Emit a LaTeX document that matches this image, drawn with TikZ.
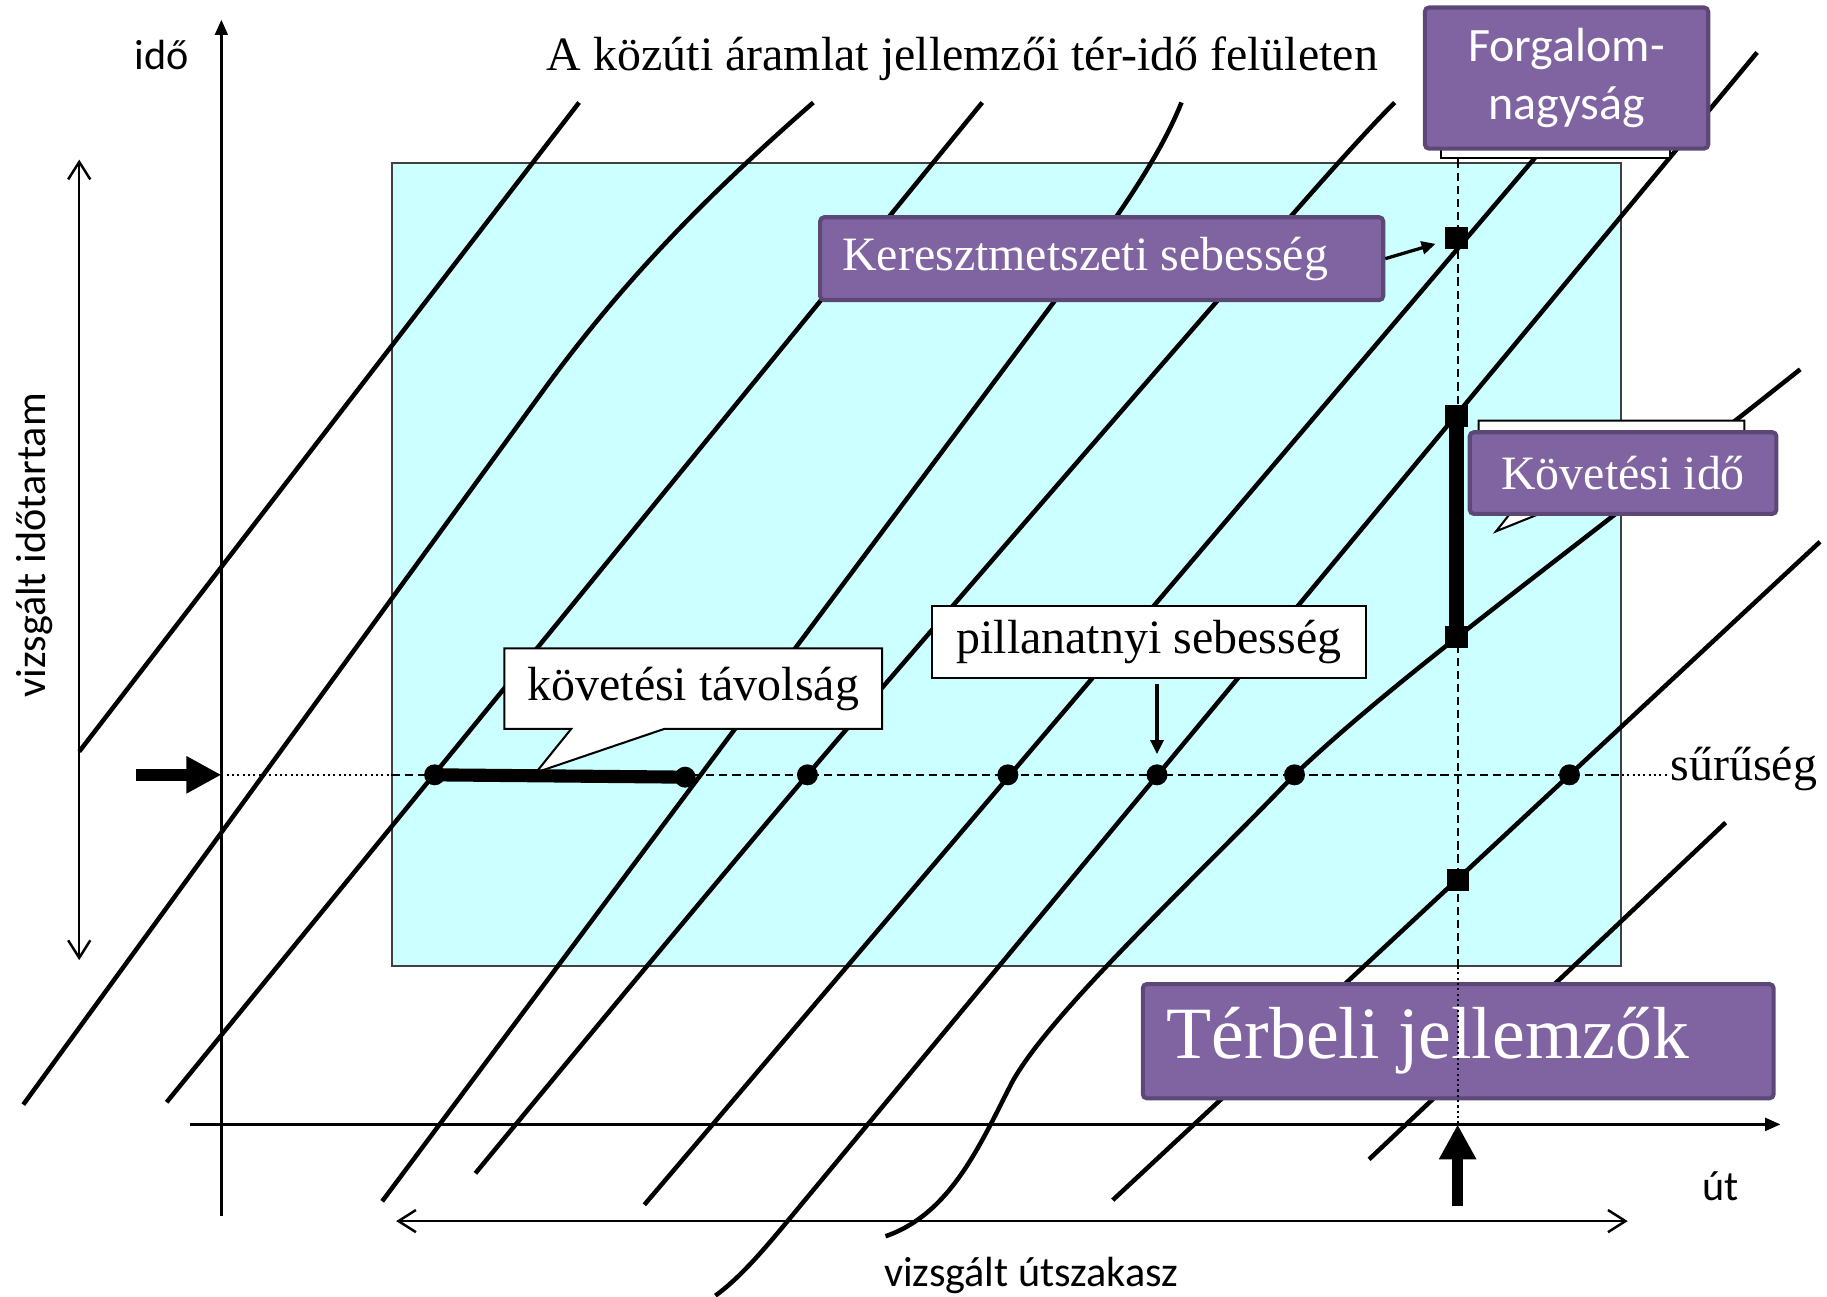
\documentclass[tikz,border=0pt]{standalone}
\usepackage{fontspec}
\setmainfont{Liberation Serif}
\newfontfamily\calibri{Carlito}
\usetikzlibrary{arrows.meta,shapes.callouts}

\definecolor{zonecyan}{RGB}{204,255,255}
\definecolor{boxpurple}{RGB}{128,100,162}
\definecolor{boxedge}{RGB}{92,71,118}

\newcommand{\txtsize}{\fontsize{11.7pt}{14.2pt}\selectfont}
\newcommand{\bigtxtsize}{\fontsize{18pt}{21pt}\selectfont}
\newcommand{\axsize}{\fontsize{10.3pt}{12pt}\selectfont}

\begin{document}
\begin{tikzpicture}[x=0.01cm, y=-0.01cm, font=\txtsize,
  traj/.style={line width=1.1pt},
  axisline/.style={line width=0.6pt, -{Triangle[length=1.3mm, width=1.1mm]}},
  spanarrow/.style={line width=0.6pt, {Straight Barb[length=1.5mm, width=1.9mm]}-{Straight Barb[length=1.5mm, width=1.9mm]}},
  refdash/.style={line width=0.45pt, dash pattern=on 2pt off 1.2pt},
  refdot/.style={line width=0.45pt, dash pattern=on 0.5pt off 0.8pt},
  bigarrow/.style={line width=2.8pt, -{Triangle[length=3mm, width=3mm]}},
  ptr/.style={line width=0.8pt, -{Triangle[length=1.2mm, width=1.1mm]}},
  cardot/.style={circle, fill=black, inner sep=0pt, minimum size=1.8mm},
  carsq/.style={rectangle, fill=black, inner sep=0pt, minimum size=1.9mm},
  purplebox/.style={rectangle, rounded corners=1pt, fill=boxpurple, draw=boxedge, line width=1pt, text=white, inner sep=0pt},
  whitebox/.style={rectangle, fill=white, draw=black, line width=0.5pt, inner sep=0pt},
  whitecall/.style={rectangle callout, fill=white, draw=black, line width=0.5pt, inner sep=0pt},
  sanslabel/.style={font=\calibri\axsize}]

  \useasboundingbox (0,0) rectangle (1568,1113);

  % Vizsgalt terulet
  \node[fill=zonecyan, draw=black!75, line width=0.4pt, minimum width=10.54cm, minimum height=6.89cm, inner sep=0pt] (zone) at (864,484.5) {};

  % Tengelyek
  \draw[axisline] (190,1044) -- (190,17);
  \draw[axisline] (163,965) -- (1528,965);
  \node[sanslabel] (ido) at (139,47) {idő};
  \node[sanslabel] (ut) at (1477,1018) {út};
  \coordinate (tmark) at (190,665);
  \coordinate (smark) at (1251,965);

  % Intervallumok
  \draw[spanarrow] (68,137) -- (68,824);
  \draw[spanarrow] (340,1048) -- (1397,1048);
  \node[sanslabel, rotate=90] (idotartam) at (30,468) {vizsgált időtartam};
  \node[sanslabel] (utszakasz) at (885,1095) {vizsgált útszakasz};

  % Suruseg vonal
  \node[anchor=west, inner sep=0pt] (suru) at (1433,660) {sűrűség};
  \draw[refdot] (tmark) -- (tmark -| zone.west);
  \draw[refdash] (tmark -| zone.west) -- (tmark -| zone.east);
  \draw[refdot] (tmark -| zone.east) -- (tmark -| suru.west);

  % Jarmupalyak
  \draw[traj] (68,645) -- (497,88);
  \draw[traj] (20,948) -- (470,330) .. controls (540,235) and (610,165) .. (698,88);
  \draw[traj] (143,946) -- (843,88);
  \draw[traj] (328,1031) -- (930,225) .. controls (968,174) and (998,128) .. (1014,88);
  \draw[traj] plot[smooth] coordinates {(408,1007) (693,665) (1105,189) (1197,88)};
  \draw[traj] (553,1034) -- (1322,130);
  \draw[traj] (1508,45) -- (690,1031) .. controls (665,1061) and (640,1093) .. (614,1112);
  \draw[traj] (760,1061) .. controls (815,1042) and (840,985) .. (868,930) .. controls (900,870) and (1030,750) .. (1111,665) .. controls (1200,580) and (1340,480) .. (1545,317);
  \draw[traj] (955,1030) -- (1562,465);
  \draw[traj] (1175,995) -- (1481,706);

  % Cim
  \node (title) at (826,50) {A közúti áramlat jellemzői tér-idő felületen};

  % Dobozok
  \node[whitebox, minimum width=1.96cm, minimum height=0.4cm] (fwhite) at (1335,116) {};
  \node[purplebox, font=\calibri\txtsize, align=center, minimum width=2.43cm, minimum height=1.21cm] (forg) at (1344.5,67) {Forgalom-\\nagyság};
  \node[purplebox, text width=4.45cm, inner xsep=0.19cm, align=flush left, minimum height=0.71cm] (kmbox) at (945.5,222) {Keresztmetszeti sebesség};
  \node[whitecall, minimum width=2.28cm, minimum height=0.69cm, callout absolute pointer={(1284,456)}, callout pointer width=0.44cm] (kwhite) at (1383,395.5) {};
  \node[purplebox, minimum width=2.63cm, minimum height=0.70cm] (kibox) at (1393,406) {Követési idő};
  \node[whitecall, minimum width=3.24cm, minimum height=0.69cm, callout absolute pointer={(460,663)}, callout pointer width=0.8cm] (tavbox) at (595,591) {követési távolság};
  \node[whitebox, minimum width=3.72cm, minimum height=0.62cm] (pilbox) at (986,551) {pillanatnyi sebesség};
  \node[purplebox, font=\bigtxtsize, text width=5.0cm, inner xsep=0.205cm, align=flush left, minimum height=0.98cm] (terbox) at (1251.5,893.6) {Térbeli jellemzők};

  % Keresztmetszet vonal
  \draw[refdash] (fwhite.south -| smark) -- (zone.south -| smark);
  \draw[refdot] (zone.south -| smark) -- (smark);

  % Jarmuvek
  \node[cardot] (d1) at (373,665) {};
  \node[cardot] (d2) at (588,667) {};
  \node[cardot] (d3) at (693,665) {};
  \node[cardot] (d4) at (865,665) {};
  \node[cardot] (d5) at (993,665) {};
  \node[cardot] (d6) at (1111,665) {};
  \node[cardot] (d7) at (1347,665) {};
  \node[carsq] (q1) at (1250,204) {};
  \node[carsq] (q2) at (1250,357) {};
  \node[carsq] (q3) at (1250,547) {};
  \node[carsq] (q4) at (1251,755) {};
  \draw[line width=3.2pt] (d1.center) -- (d2.center);
  \draw[line width=3.8pt] (q2.center) -- (q3.center);

  % Nyilak
  \draw[ptr, shorten >=0.08cm] (kmbox.east) -- (q1);
  \draw[ptr, shorten >=0.08cm, shorten <=0.04cm] (pilbox.south -| d5) -- (d5);
  \draw[bigarrow] (117,665) -- (tmark);
  \draw[bigarrow] (1251,1035) -- (smark);
\end{tikzpicture}
\end{document}
